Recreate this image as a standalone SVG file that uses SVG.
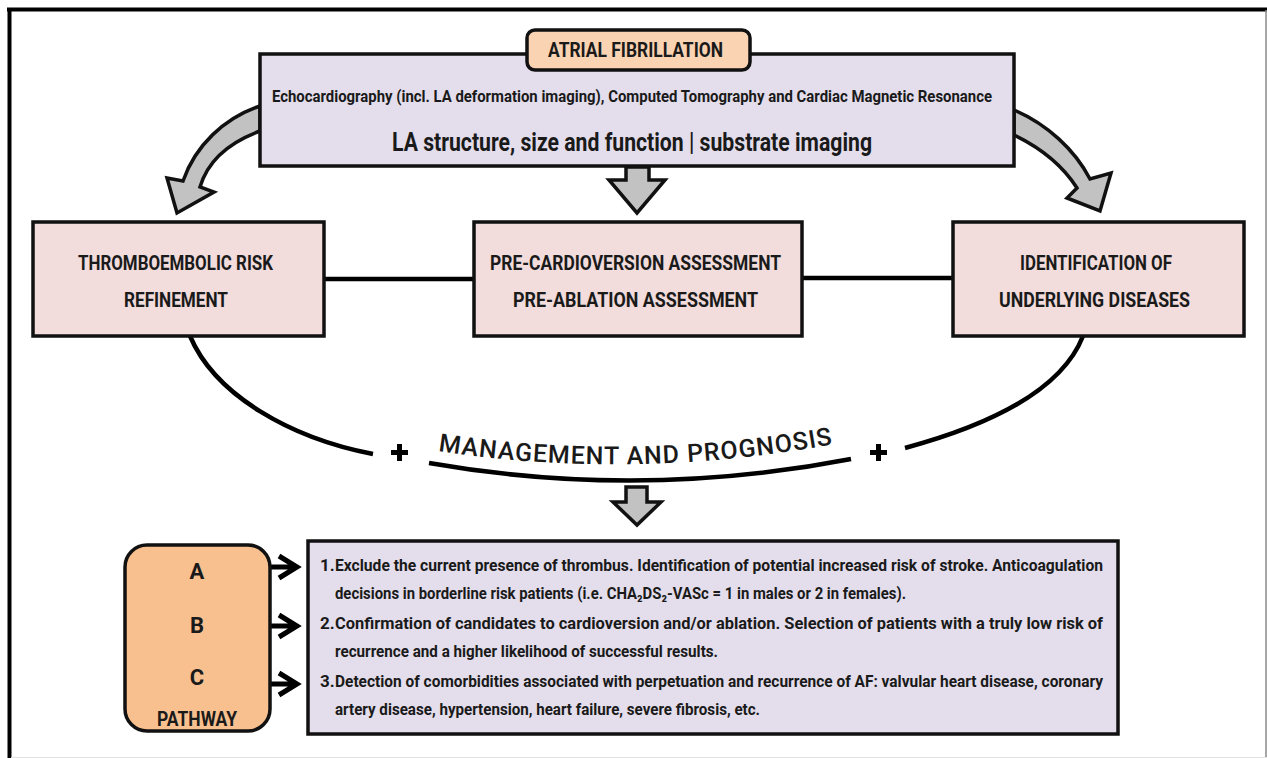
<svg xmlns="http://www.w3.org/2000/svg" width="1267" height="758" viewBox="0 0 1267 758">
<defs>
<style>
.t{font-family:Roboto,"DejaVu Sans Condensed","Liberation Sans",sans-serif;font-weight:700;fill:#1a1a1a}
.box{stroke:#111;stroke-width:3.5}
.pink{fill:#F2DCDC}
.purple{fill:#E4DEEC}
.garrow{fill:#C2C2C2;stroke:#111;stroke-width:3.5;stroke-linejoin:miter}
.line{fill:none;stroke:#000;stroke-width:4.5;stroke-linecap:butt}
.chev{fill:none;stroke:#000;stroke-width:5;stroke-linecap:butt;stroke-linejoin:miter}
.body{font-size:17px}
.hd{font-size:21px}
</style>
<path id="mp" d="M 438 451 Q 641 482 850 441"/>
</defs>
<rect width="1267" height="758" fill="#fff"/>
<g id="frame">
<line x1="7" y1="9.5" x2="1267" y2="9.5" stroke="#000" stroke-width="4"/>
<line x1="9.5" y1="8" x2="9.5" y2="758" stroke="#000" stroke-width="4"/>
<line x1="1266" y1="10" x2="1266" y2="758" stroke="#888" stroke-width="1.5"/>
<line x1="11" y1="757.5" x2="1267" y2="757.5" stroke="#e2e2e2" stroke-width="1"/>
</g>
<g id="connectors">
<path class="garrow" d="M 260 106 C 224 118, 195 146, 183 181 L 167 178 L 177 213 L 214 192 L 200 187 C 208 160, 230 142, 260 131 Z"/>
<path class="garrow" d="M 1014 110 C 1047 124, 1075 150, 1090 179 L 1111 173 L 1100 211 L 1067 198 L 1077 188 C 1063 166, 1041 148, 1014 135 Z"/>
<path class="garrow" d="M 626 167 L 649 167 L 649 180 L 665 180 L 637 213 L 609 180 L 626 180 Z"/>
<line class="line" x1="323" y1="279" x2="474" y2="279"/>
<line class="line" x1="801" y1="278" x2="953" y2="278"/>
<path class="line" d="M 190 336 C 215 395, 290 438, 373 454"/>
<path class="line" d="M 429 463 Q 640 500 851 459"/>
<path class="line" d="M 905 448 C 990 425, 1062 390, 1083 336"/>
<path class="garrow" d="M 626 487 L 647 487 L 647 502 L 661 502 L 637 525 L 613 502 L 626 502 Z"/>
<g id="plus-left"><rect x="391" y="450" width="17" height="5" fill="#000"/><rect x="397" y="444" width="5" height="17" fill="#000"/></g>
<g id="plus-right"><rect x="870" y="450" width="17" height="5" fill="#000"/><rect x="876" y="444" width="5" height="17" fill="#000"/></g>
<path class="chev" d="M 271 567 L 297 567 M 279 556 L 297 567 L 279 578"/>
<path class="chev" d="M 271 626 L 297 626 M 279 615 L 297 626 L 279 637"/>
<path class="chev" d="M 271 684 L 297 684 M 279 673 L 297 684 L 279 695"/>
</g>
<g id="imaging">
<rect class="box purple" x="260" y="54" width="754" height="112"/>
<text class="t" x="272" y="102" font-size="16" textLength="720" lengthAdjust="spacingAndGlyphs">Echocardiography (incl. LA deformation imaging), Computed Tomography and Cardiac Magnetic Resonance</text>
<text class="t" x="392" y="151" font-size="26" textLength="480" lengthAdjust="spacingAndGlyphs">LA structure, size and function | substrate imaging</text>
</g>
<g id="af">
<rect class="box" x="527" y="30" width="223" height="40" rx="8" fill="#FAD3B3"/>
<text class="t" x="548" y="57" font-size="20" textLength="175" lengthAdjust="spacingAndGlyphs">ATRIAL FIBRILLATION</text>
</g>
<g id="thromboembolic">
<rect class="box pink" x="33" y="222" width="291" height="114"/>
<text class="t hd" x="78" y="270" textLength="195" lengthAdjust="spacingAndGlyphs">THROMBOEMBOLIC RISK</text>
<text class="t hd" x="124" y="307" textLength="104" lengthAdjust="spacingAndGlyphs">REFINEMENT</text>
</g>
<g id="assessment">
<rect class="box pink" x="474" y="222" width="328" height="114"/>
<text class="t hd" x="490" y="270" textLength="291" lengthAdjust="spacingAndGlyphs">PRE-CARDIOVERSION ASSESSMENT</text>
<text class="t hd" x="513" y="307" textLength="245" lengthAdjust="spacingAndGlyphs">PRE-ABLATION ASSESSMENT</text>
</g>
<g id="underlying">
<rect class="box pink" x="953" y="222" width="291" height="114"/>
<text class="t hd" x="1020" y="270" textLength="152" lengthAdjust="spacingAndGlyphs">IDENTIFICATION OF</text>
<text class="t hd" x="999" y="307" textLength="191" lengthAdjust="spacingAndGlyphs">UNDERLYING DISEASES</text>
</g>
<g id="management">
<text class="t" font-size="25" style="font-weight:500" letter-spacing="1"><textPath href="#mp">MANAGEMENT AND PROGNOSIS</textPath></text>
</g>
<g id="pathway">
<rect class="box" x="125" y="545" width="145" height="186" rx="22" fill="#F8C08F"/>
<text class="t" x="197" y="579" font-size="22" text-anchor="middle">A</text>
<text class="t" x="197" y="633" font-size="22" text-anchor="middle">B</text>
<text class="t" x="197" y="685" font-size="22" text-anchor="middle">C</text>
<text class="t" x="157" y="726" font-size="20" textLength="80" lengthAdjust="spacingAndGlyphs">PATHWAY</text>
</g>
<g id="details">
<rect class="box purple" x="308" y="541" width="810" height="193"/>
<text class="t body" x="320" y="571">1.</text>
<text class="t body" x="335" y="571" textLength="768" lengthAdjust="spacingAndGlyphs">Exclude the current presence of thrombus. Identification of potential increased risk of stroke. Anticoagulation</text>
<text class="t body" x="335" y="599" textLength="571" lengthAdjust="spacingAndGlyphs">decisions in borderline risk patients (i.e. CHA₂DS₂-VASc = 1 in males or 2 in females).</text>
<text class="t body" x="320" y="629">2.</text>
<text class="t body" x="335" y="629" textLength="768" lengthAdjust="spacingAndGlyphs">Confirmation of candidates to cardioversion and/or ablation. Selection of patients with a truly low risk of</text>
<text class="t body" x="335" y="657" textLength="383" lengthAdjust="spacingAndGlyphs">recurrence and a higher likelihood of successful results.</text>
<text class="t body" x="320" y="687">3.</text>
<text class="t body" x="335" y="687" textLength="768" lengthAdjust="spacingAndGlyphs">Detection of comorbidities associated with perpetuation and recurrence of AF: valvular heart disease, coronary</text>
<text class="t body" x="335" y="715" textLength="425" lengthAdjust="spacingAndGlyphs">artery disease, hypertension, heart failure, severe fibrosis, etc.</text>
</g>
</svg>
